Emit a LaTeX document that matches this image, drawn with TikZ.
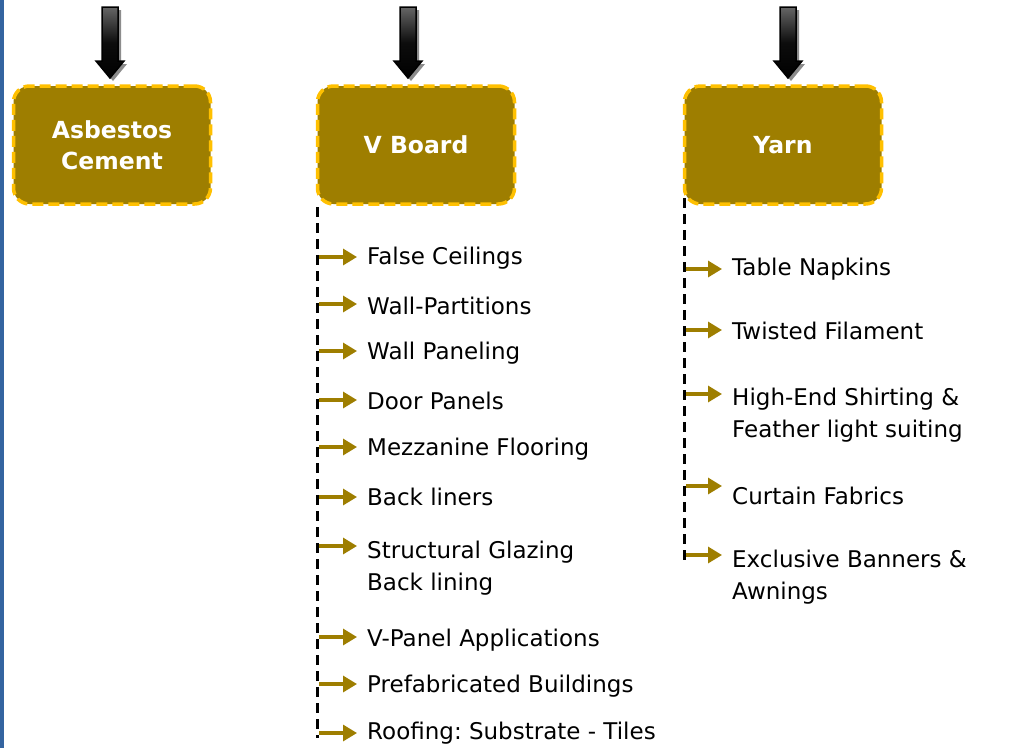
\documentclass[tikz,border=0pt]{standalone}
\usepackage{fontspec}
\setmainfont{DejaVu Sans}
\usetikzlibrary{arrows.meta}
\definecolor{gold}{RGB}{158,126,0}
\definecolor{goldline}{RGB}{255,192,0}
\definecolor{stripblue}{RGB}{52,100,160}
\frenchspacing
\tikzset{
  catbox/.style={draw=goldline, fill=gold, line width=3.5pt, dash pattern=on 11pt off 5pt,
    rounded corners=16pt, minimum width=197pt, minimum height=118pt, text=white,
    font=\fontsize{23.5}{31}\selectfont\bfseries, align=center, inner sep=0pt},
  item/.style={anchor=west, inner sep=0pt, align=left, font=\fontsize{23}{32}\selectfont},
  itemarrow/.style={draw=gold, line width=3.2pt, -{Triangle[length=14pt,width=16pt]}, shorten >=10pt},
  spine/.style={draw=black, line width=3pt, dash pattern=on 10pt off 6pt},
  downarrow/.style={top color=black!60, bottom color=black, middle color=black!95, draw=black, line width=1.5pt}
}
\newcommand{\bigdown}[2]{%
  \fill[black!45] (#1-8+3,#2+3) -- (#1+8+3,#2+3) -- (#1+8+3,#2+54+3) -- (#1+14+3,#2+54+3) -- (#1+3,#2+71+3) -- (#1-14+3,#2+54+3) -- (#1-8+3,#2+54+3) -- cycle;
  \shade[downarrow] (#1-8,#2) -- (#1+8,#2) -- (#1+8,#2+54) -- (#1+14,#2+54) -- (#1,#2+71) -- (#1-14,#2+54) -- (#1-8,#2+54) -- cycle;
}
\begin{document}
\begin{tikzpicture}[x=1pt,y=-1pt]
\useasboundingbox (0,0) rectangle (1009,748);
\fill[white] (0,0) rectangle (1009,748);
\fill[stripblue] (0,0) rectangle (4,748);

% category boxes
\node[catbox] (ac) at (112,145) {Asbestos\\Cement};
\node[catbox] (vb) at (416,145) {V Board};
\node[catbox] (yn) at (783,145) {Yarn};

% top arrows
\bigdown{110}{7}
\bigdown{408}{7}
\bigdown{788}{7}

% V Board spine
\coordinate (vtop) at (317,207);
\coordinate (vbot) at (317,738);
\draw[spine] (vtop) -- (vbot);

% Yarn spine
\coordinate (ytop) at (684,198);
\coordinate (ybot) at (684,560);
\draw[spine] (ytop) -- (ybot);

% V Board items
\node[item] (v1) at (367,258) {False Ceilings};
\node[item] (v2) at (367,306) {Wall-Partitions};
\node[item] (v3) at (367,353) {Wall Paneling};
\node[item] (v4) at (367,401) {Door Panels};
\node[item] (v5) at (367,449) {Mezzanine Flooring};
\node[item] (v6) at (367,497) {Back liners};
\node[item] (v7) at (367,568) {Structural Glazing\\Back lining};
\node[item] (v8) at (367,640) {V-Panel Applications};
\node[item] (v9) at (367,686) {Prefabricated Buildings};
\node[item] (v10) at (367,733) {Roofing: Substrate - Tiles};

\coordinate (va1) at (319,257);
\coordinate (va2) at (319,304);
\coordinate (va3) at (319,351);
\coordinate (va4) at (319,400);
\coordinate (va5) at (319,447);
\coordinate (va6) at (319,497);
\coordinate (va7) at (319,546);
\coordinate (va8) at (319,637);
\coordinate (va9) at (319,684);
\coordinate (va10) at (319,733);
\foreach \i in {1,...,10} {\draw[itemarrow] (va\i) -- (va\i -| v\i.west);}

% Yarn items
\node[item] (y1) at (732,269) {Table Napkins};
\node[item] (y2) at (732,331) {Twisted Filament};
\node[item] (y3) at (732,415) {High-End Shirting \&\\Feather light suiting};
\node[item] (y4) at (732,496) {Curtain Fabrics};
\node[item] (y5) at (732,577) {Exclusive Banners \&\\Awnings};

\coordinate (ya1) at (686,269);
\coordinate (ya2) at (686,330);
\coordinate (ya3) at (686,394);
\coordinate (ya4) at (686,486);
\coordinate (ya5) at (686,555);
\foreach \i in {1,...,5} {\draw[itemarrow] (ya\i) -- (ya\i -| y\i.west);}
\end{tikzpicture}
\end{document}
